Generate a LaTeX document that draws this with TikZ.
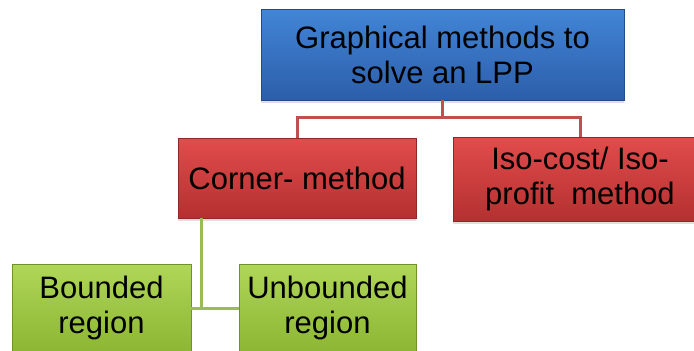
\documentclass[tikz,border=0pt]{standalone}
\usepackage{fontspec}
\setmainfont{Liberation Sans}
\usetikzlibrary{shadows}

\definecolor{blueTop}{RGB}{66,133,214}
\definecolor{blueBot}{RGB}{44,94,170}
\definecolor{redTop}{RGB}{226,76,76}
\definecolor{redBot}{RGB}{180,48,48}
\definecolor{greenTop}{RGB}{176,214,88}
\definecolor{greenBot}{RGB}{140,182,52}
\definecolor{redLine}{RGB}{192,80,77}
\definecolor{greenLine}{RGB}{155,187,89}

\begin{document}
\begin{tikzpicture}[x=1pt,y=1pt,yscale=-1,xscale=1,
  box/.style={rectangle, inner sep=0pt, align=center,
    font=\fontsize{31}{35}\selectfont,
    drop shadow={shadow xshift=0pt,shadow yshift=-3pt,opacity=0.25}},
  bluebox/.style={box, top color=blueTop, bottom color=blueBot, draw=blueBot!80!black},
  redbox/.style={box, top color=redTop, bottom color=redBot, draw=redBot!80!black},
  greenbox/.style={box, top color=greenTop, bottom color=greenBot, draw=greenBot!80!black},
  redlink/.style={draw=redLine, line width=3pt},
  greenlink/.style={draw=greenLine, line width=3pt}]
\useasboundingbox (0,0) rectangle (694,351);

% Boxes
\node [bluebox, minimum width=363pt, minimum height=91pt] (lpp) at (442.5,54.5) {Graphical methods to\\solve an LPP};
\node [redbox, minimum width=238pt, minimum height=80pt] (corner) at (297,178) {Corner- method};
\node [redbox, minimum width=254pt, minimum height=84pt] (iso) at (580,179) {Iso-cost/ Iso-\\profit\ \ method};
\node [greenbox, minimum width=179pt, minimum height=88pt] (bounded) at (101.5,308) {Bounded\\region};
\node [greenbox, minimum width=177pt, minimum height=88pt] (unbounded) at (327.5,308) {Unbounded\\region};

% Connectors
\coordinate (fork) at (442.5,117);
\coordinate (join) at (201,308);
\draw [redlink] (lpp.south) -- (fork) -| (corner.north);
\draw [redlink] (fork) -| (iso.north);
\draw [greenlink] (corner.south -| join) -- (join);
\draw [greenlink] (bounded.east) -- (unbounded.west);

\end{tikzpicture}
\end{document}
